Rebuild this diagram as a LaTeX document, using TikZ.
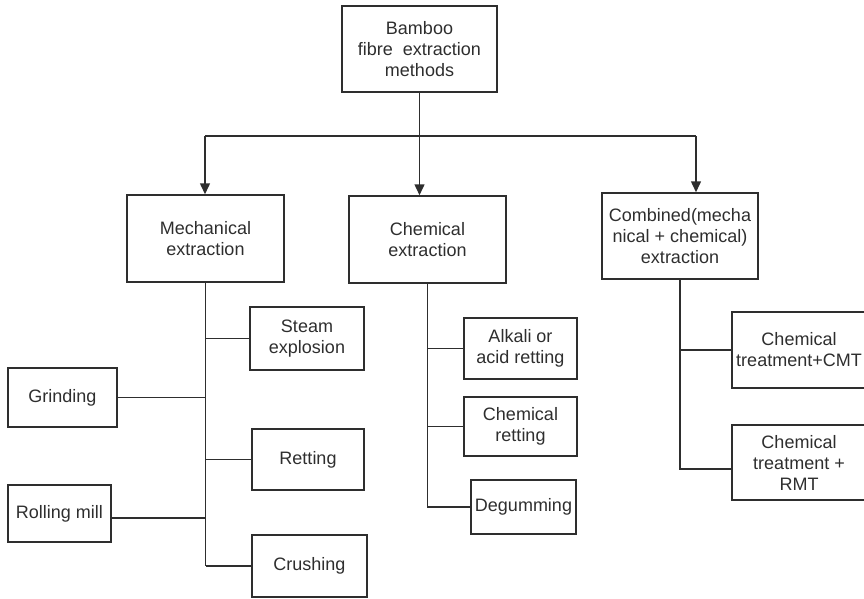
\documentclass[tikz,border=0pt]{standalone}
\usepackage{fontspec}
\setmainfont{Liberation Sans}
\usetikzlibrary{arrows.meta,calc}
\definecolor{ink}{HTML}{2E2E2E}
\begin{document}
\begin{tikzpicture}[x=1pt,y=-1pt,
  every node/.style={font=\fontsize{18}{21}\selectfont,text=ink},
  box/.style={draw=ink,line width=1.5pt,rectangle,align=center,inner sep=1pt},
  link/.style={draw=ink,line width=1.5pt},
  arr/.style={link,-{Triangle[width=10pt,length=11pt]}}]
\useasboundingbox (0,0) rectangle (864,599);
% boxes
\node[box,minimum width=155,minimum height=86] (root) at (419.5,49) {Bamboo\\fibre\ \ extraction\\methods};
\node[box,minimum width=157,minimum height=87] (mech) at (205.5,238.5) {Mechanical\\extraction};
\node[box,minimum width=157,minimum height=87] (chem) at (427.5,239.5) {Chemical\\extraction};
\node[box,minimum width=156,minimum height=86] (comb) at (680,236) {Combined(mecha\\nical + chemical)\\extraction};
\node[box,minimum width=134,minimum height=76] (cmt) at (799,350) {Chemical\\treatment+CMT};
\node[box,minimum width=134,minimum height=75] (rmt) at (799,462.5) {Chemical\\treatment +\\RMT};
\node[box,minimum width=114,minimum height=63] (steam) at (307,338.5) {Steam\\explosion};
\node[box,minimum width=109,minimum height=59] (grind) at (62.5,397.5) {Grinding};
\node[box,minimum width=112,minimum height=61] (ret) at (308,459.5) {Retting};
\node[box,minimum width=103,minimum height=57] (roll) at (59.5,513.5) {Rolling mill};
\node[box,minimum width=115,minimum height=62] (crush) at (309.5,566) {Crushing};
\node[box,minimum width=113,minimum height=61] (alk) at (520.5,348.5) {Alkali or\\acid retting};
\node[box,minimum width=113,minimum height=59] (cret) at (520.5,426.5) {Chemical\\retting};
\node[box,minimum width=105,minimum height=54] (deg) at (523.5,507) {Degumming};
% helper coordinates
\coordinate (hL) at (205,136);
\coordinate (hR) at (696,136);
\coordinate (rollE) at ([yshift=-4.5pt]roll.east);
\coordinate (rmtW) at ([yshift=-6.5pt]rmt.west);
% top distribution
\draw[link] (hL) -- (hR);
\draw[arr] (root.south) -- (root.south |- chem.north);
\draw[arr] (hL) -- (hL |- mech.north);
\draw[arr] (hR) -- (hR |- comb.north);
% mechanical trunk
\draw[link] (mech.south) -- (mech.south |- crush.west);
\draw[link] (steam.west) -- (steam.west -| mech.south);
\draw[link] (ret.west) -- (ret.west -| mech.south);
\draw[link] (crush.west) -- (crush.west -| mech.south);
\draw[link] (grind.east) -- (grind.east -| mech.south);
\draw[link] (rollE) -- (rollE -| mech.south);
% chemical trunk
\draw[link] (chem.south) -- (chem.south |- deg.west) -- (deg.west);
\draw[link] (alk.west) -- (alk.west -| chem.south);
\draw[link] (cret.west) -- (cret.west -| chem.south);
% combined trunk
\draw[link] (comb.south) -- (comb.south |- rmtW) -- (rmtW);
\draw[link] (cmt.west) -- (cmt.west -| comb.south);
\end{tikzpicture}
\end{document}
